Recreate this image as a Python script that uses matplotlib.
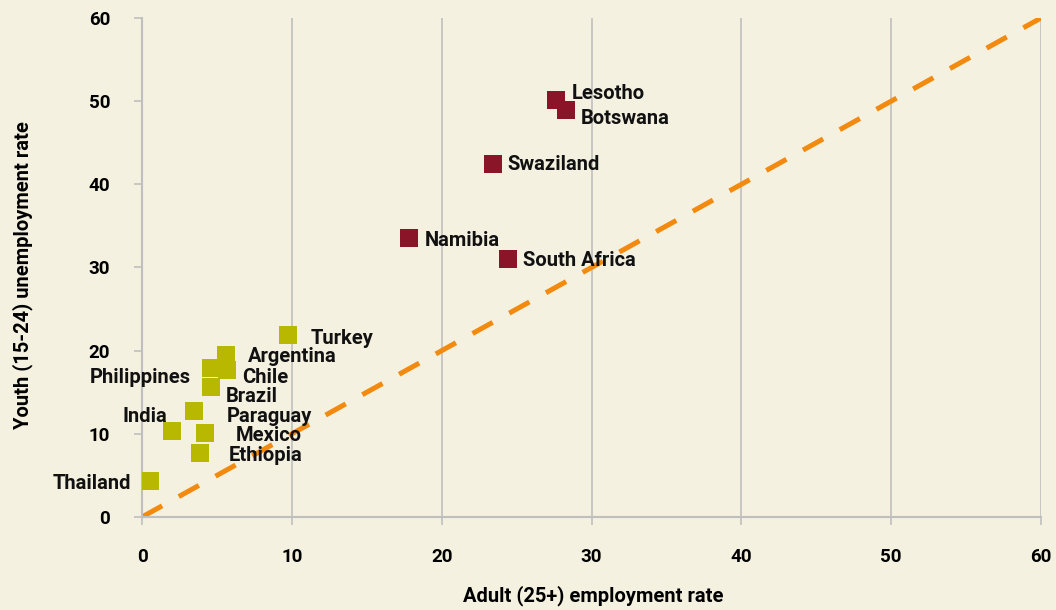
import numpy as np
import matplotlib
matplotlib.use("Agg")
import matplotlib.pyplot as plt

# =========================================================
# data
# =========================================================
africa_names = ["Lesotho", "Botswana", "Swaziland", "Namibia", "South Africa"]
africa_adult = [27.6, 28.3, 23.4, 17.8, 24.4]
africa_youth = [50.1, 48.9, 42.5, 33.5, 31.0]

other_names = ["Turkey", "Argentina", "Philippines", "Chile", "Brazil",
               "Paraguay", "India", "Mexico", "Ethiopia", "Thailand"]
other_adult = [9.75, 5.6, 4.6, 5.7, 4.6, 3.5, 2.0, 4.2, 3.9, 0.5]
other_youth = [21.9, 19.5, 17.9, 17.7, 15.6, 12.7, 10.3, 10.1, 7.7, 4.3]

# label offsets in pixels (dx, dy) and alignment
offsets = {
    "Lesotho": (16, 7, "left"), "Botswana": (15, -8, "left"),
    "Swaziland": (15, -1, "left"), "Namibia": (16, -2, "left"),
    "South Africa": (15, -1, "left"), "Turkey": (23, -4, "left"),
    "Argentina": (22, -2, "left"), "Philippines": (-20, -9, "right"),
    "Chile": (15, -8, "left"), "Brazil": (15, -9, "left"),
    "Paraguay": (32, -5, "left"), "India": (-5, 15, "right"),
    "Mexico": (31, -3, "left"), "Ethiopia": (28, -3, "left"),
    "Thailand": (-18, -2, "right"),
}

bg = "#F5F1E0"
grid_c = "#BFBFBF"
plt.rcParams['font.family'] = ['Roboto', 'DejaVu Sans']

fig = plt.figure(figsize=(10.56, 6.10), dpi=100, facecolor=bg)
ax = fig.add_axes([0.1345, 0.1525, 0.8513, 0.818])
ax.set_facecolor(bg)

# 45 degree reference line
ax.plot([0, 60], [0, 60], color="#F28A0F", lw=3.6, dashes=(4.6, 3.8),
        solid_capstyle="butt", zorder=1)

ax.plot(other_adult, other_youth, "s", ms=13, color="#B8B800",
        markeredgewidth=0, zorder=3)
ax.plot(africa_adult, africa_youth, "s", ms=13, color="#8A1428",
        markeredgewidth=0, zorder=3)

for names, xs, ys in [(africa_names, africa_adult, africa_youth),
                      (other_names, other_adult, other_youth)]:
    for n, x, y in zip(names, xs, ys):
        dx, dy, ha = offsets[n]
        ax.annotate(n, (x, y), xytext=(dx, dy), textcoords="offset pixels",
                    ha=ha, va="center", fontsize=14.5, fontweight="bold",
                    color="#111111", zorder=4)

ax.set_xlim(0, 60)
ax.set_ylim(0, 60)
ax.set_xticks(np.arange(0, 61, 10))
ax.set_yticks(np.arange(0, 61, 10))
ax.grid(axis="x", color=grid_c, lw=1.2, zorder=0)
ax.set_axisbelow(True)
for s in ["top", "right"]:
    ax.spines[s].set_visible(False)
for s in ["left", "bottom"]:
    ax.spines[s].set_color(grid_c)
    ax.spines[s].set_linewidth(1.5)
ax.tick_params(axis="x", length=6, color=grid_c, width=1.2, pad=16,
               labelsize=13.5)
ax.tick_params(axis="y", length=6, color=grid_c, width=1.2, pad=17,
               labelsize=13.5)
for lab in ax.get_xticklabels() + ax.get_yticklabels():
    lab.set_fontweight("bold")

ax.set_xlabel("Adult (25+) employment rate", fontsize=14.5, fontweight="bold")
ax.set_ylabel("Youth (15-24) unemployment rate", fontsize=14.5,
              fontweight="bold")
ax.xaxis.set_label_coords(0.502, -0.137)
ax.yaxis.set_label_coords(-0.121, 0.485)

plt.savefig("out.png", dpi=100, facecolor=bg)
